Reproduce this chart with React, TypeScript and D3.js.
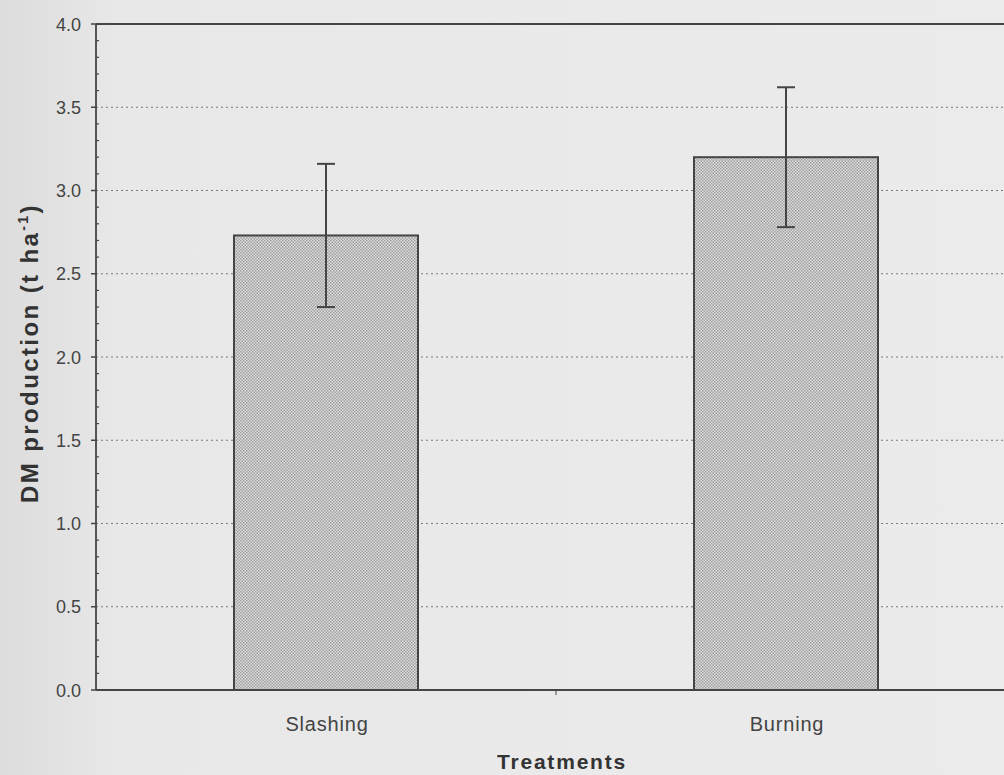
import React from "react";
import * as d3 from "d3";

const categories: string[] = ["Slashing", "Burning"];
const means: number[] = [2.73, 3.2];
const errors: number[] = [0.43, 0.42];
const yTicks: number[] = [0, 0.5, 1, 1.5, 2, 2.5, 3, 3.5, 4];
const yTitle = "DM production (t ha";
const xTitle = "Treatments";

const W = 1004;
const H = 775;
const left = 96;
const top = 24;
const bottom = 690;

export default function App() {
  const y = d3.scaleLinear().domain([0, 4]).range([bottom, top]);
  const x = d3.scaleBand<string>().domain(categories).range([left, 1016]).paddingInner(0).paddingOuter(0);
  const bw = x.bandwidth() * 0.4;
  const minor = d3.range(0, 4.0001, 0.1).filter((v) => Math.abs(v * 2 - Math.round(v * 2)) > 1e-6);
  const ink = "#454545";
  return (
    <svg width={W} height={H} style={{ position: "absolute", left: 0, top: 0 }} fontFamily="'Liberation Sans', Arial, sans-serif">
      <defs>
        <linearGradient id="bg" x1="0" x2="1" y1="0" y2="0">
          <stop offset="0" stopColor="#dcdcdc" />
          <stop offset="0.12" stopColor="#e8e8e8" />
          <stop offset="1" stopColor="#ebebeb" />
        </linearGradient>
        <pattern id="dots" width="3" height="3" patternUnits="userSpaceOnUse">
          <rect width="3" height="3" fill="#dcdcdc" />
          <rect x="0" y="0" width="1.5" height="1.5" fill="#a0a0a0" />
          <rect x="1.5" y="1.5" width="1.5" height="1.5" fill="#a0a0a0" />
        </pattern>
      </defs>
      <rect width={W} height={H} fill="url(#bg)" />
      {yTicks.filter((t) => t > 0 && t < 4).map((t) => (
        <line key={"g" + t} x1={left} x2={W} y1={y(t)} y2={y(t)} stroke="#7a7a7a" strokeWidth={1} strokeDasharray="2,3" />
      ))}
      {categories.map((c, i) => {
        const cx = (x(c) as number) + x.bandwidth() / 2;
        return (
          <g key={c}>
            <rect x={cx - bw / 2} y={y(means[i])} width={bw} height={y(0) - y(means[i])} fill="url(#dots)" stroke={ink} strokeWidth={2} />
            <line x1={cx} x2={cx} y1={y(means[i] + errors[i])} y2={y(means[i] - errors[i])} stroke={ink} strokeWidth={2} />
            <line x1={cx - 9} x2={cx + 9} y1={y(means[i] + errors[i])} y2={y(means[i] + errors[i])} stroke={ink} strokeWidth={2} />
            <line x1={cx - 9} x2={cx + 9} y1={y(means[i] - errors[i])} y2={y(means[i] - errors[i])} stroke={ink} strokeWidth={2} />
            <text x={cx + 1} y={731} textAnchor="middle" fontSize={20} letterSpacing={0.8} fill="#444">{c}</text>
          </g>
        );
      })}
      <line x1={left} x2={left} y1={top} y2={bottom} stroke={ink} strokeWidth={1.8} />
      <line x1={left} x2={W} y1={bottom} y2={bottom} stroke={ink} strokeWidth={1.8} />
      <line x1={left} x2={W} y1={top} y2={top} stroke={ink} strokeWidth={1.8} />
      <line x1={(x("Burning") as number)} x2={(x("Burning") as number)} y1={bottom} y2={bottom + 5} stroke={ink} strokeWidth={1} />
      {yTicks.map((t) => (
        <g key={"t" + t}>
          <line x1={left - 5} x2={left} y1={y(t)} y2={y(t)} stroke={ink} strokeWidth={1.5} />
          <text x={81} y={y(t) + 6.5} textAnchor="end" fontSize={18} fill="#444">{t.toFixed(1)}</text>
        </g>
      ))}
      {minor.map((t) => (
        <line key={"m" + t} x1={left} x2={left + 3} y1={y(t)} y2={y(t)} stroke={ink} strokeWidth={1.2} />
      ))}
      <text transform={`translate(38, ${(top + bottom) / 2 - 4}) rotate(-90)`} textAnchor="middle" fontSize={24} fontWeight="bold" letterSpacing={2.4} fill="#333">
        {yTitle}
        <tspan fontSize={14} dy={-10}>-1</tspan>
        <tspan dy={10}>)</tspan>
      </text>
      <text x={562} y={769} textAnchor="middle" fontSize={21} fontWeight="bold" letterSpacing={1.8} fill="#333">{xTitle}</text>
    </svg>
  );
}
